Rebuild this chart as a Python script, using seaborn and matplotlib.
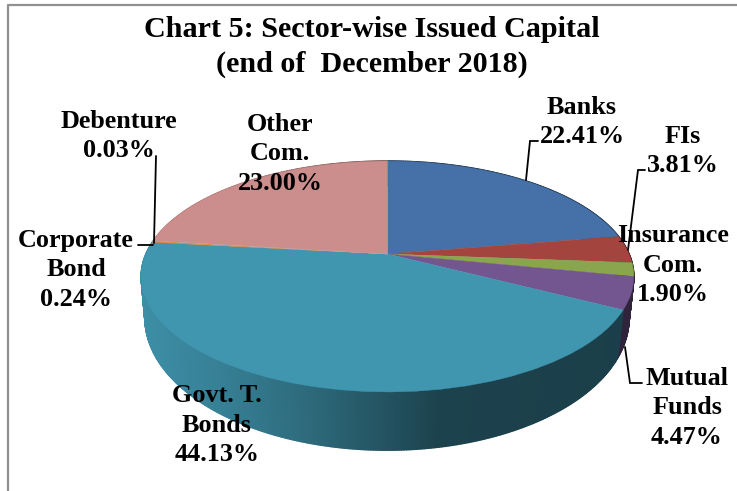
import numpy as np
import seaborn as sns
import matplotlib
matplotlib.use("Agg")
import matplotlib.pyplot as plt
from matplotlib.collections import PolyCollection
from matplotlib.transforms import Transform

# Sector shares, in pie order starting at 12 o'clock and going clockwise
sectors = ["Banks", "FIs", "Insurance Com.", "Mutual Funds", "Govt. T. Bonds",
           "Corporate Bond", "Debenture", "Other Com."]
shares = [22.41, 3.81, 1.90, 4.47, 44.13, 0.24, 0.03, 23.00]
sector_colors = ["#4571a8", "#a4443f", "#89a54d", "#73558f", "#4096af",
                 "#d98c45", "#a9bedb", "#cc8e8c"]
label_texts = ["Banks\n22.41%", "FIs\n3.81%", "Insurance\nCom.\n1.90%",
               "Mutual\nFunds\n4.47%", "Govt. T.\nBonds\n44.13%",
               "Corporate\nBond\n0.24%", "Debenture\n0.03%", "Other\nCom.\n23.00%"]
title_text = "Chart 5: Sector-wise Issued Capital\n(end of  December 2018)"

# label centres in pixels
label_pos = [(582, 122), (683, 151), (673, 265), (687, 408),
             (217, 425), (76, 270), (119, 136), (280, 154)]
# leader lines in pixels
leaders = [[(526, 180), (530, 141), (538, 141)],
           [(628, 250), (638, 170), (645, 170)],
           [(625, 347), (630, 383), (642, 383)],
           [(156, 156), (154, 243)],
           [(138, 245), (153, 245)]]


# perspective view of the flat unit pie, result in pixels
class Tilt(Transform):
    input_dims = 2
    output_dims = 2

    def __init__(self, cx, cy, b, a, k):
        super().__init__()
        self.p = (cx, cy, b, a, k)

    def transform_non_affine(self, xy):
        cx, cy, b, a, k = self.p
        xy = np.asarray(xy)
        d = 1 + k * xy[:, 1]
        return np.column_stack([cx + b * xy[:, 0] / d, cy - a * xy[:, 1] / d])


top_face = Tilt(387.5, 254, 241.5, 111, 0.195)
low_face = Tilt(387, 294, 238, 128, 0.18)

sns.set_theme(style="white")
plt.rcParams["font.family"] = ["Liberation Serif", "DejaVu Serif"]

fig = plt.figure(figsize=(7.37, 4.91), dpi=100)
ax = fig.add_axes([0, 0, 1, 1])
palette = sns.color_palette(sector_colors)

wedges, _ = ax.pie(shares, colors=palette, startangle=90, counterclock=False,
                   radius=1, wedgeprops={"linewidth": 0.3, "zorder": 3})
for w, c in zip(wedges, palette):
    w.set_edgecolor(c)
    w.set_transform(top_face + ax.transData)

ax.set_aspect("auto")
ax.set_xlim(0, 737)
ax.set_ylim(491, 0)
ax.axis("off")

# side wall: one thin strip per half degree, darker towards the right
quads, quad_colors = [], []
for w, c in zip(wedges, palette):
    n = max(2, int(w.theta2 - w.theta1) * 2 + 1)
    t = np.radians(np.linspace(w.theta1, w.theta2, n))
    unit = np.column_stack([np.cos(t), np.sin(t)])
    up = top_face.transform_non_affine(unit)
    lo = low_face.transform_non_affine(unit)
    for i in range(n - 1):
        quads.append([up[i], up[i + 1], lo[i + 1], lo[i]])
        shade = np.interp(up[i][0], [141, 220, 300, 387, 440, 640],
                          [0.95, 0.85, 0.72, 0.55, 0.44, 0.42])
        quad_colors.append(tuple(np.array(c) * shade))
ax.add_collection(PolyCollection(quads, facecolors=quad_colors, edgecolors=quad_colors,
                                 linewidths=1.2, zorder=2))

for pts in leaders:
    xs, ys = zip(*pts)
    ax.plot(xs, ys, color="black", lw=1.3, zorder=4, solid_joinstyle="miter")

for txt, (x, y) in zip(label_texts, label_pos):
    ax.text(x, y, txt, ha="center", va="center", fontsize=18.8, fontweight="bold",
            color="black", linespacing=1.38, zorder=5)
ax.text(372, 47, title_text, ha="center", va="center", fontsize=21.7, fontweight="bold",
        color="black", linespacing=1.32, zorder=5)

# frame of the original chart, only the top and left edges show
ax.plot([8, 8, 737], [491, 5, 5], color="#909090", lw=1.6, zorder=1)

fig.savefig("out.png", dpi=100)
